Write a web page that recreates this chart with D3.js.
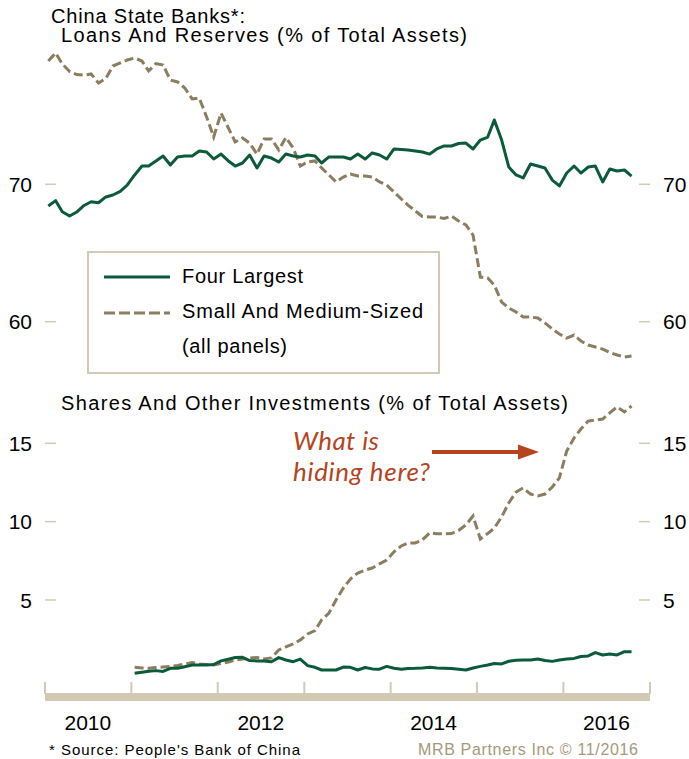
<!DOCTYPE html>
<html>
<head>
    <meta charset="utf-8">
    <title>China State Banks</title>
    <script src="https://d3js.org/d3.v7.min.js"></script>
    <style>
        html, body {
            margin: 0;
            background: #fff;
        }
        text {
            font-family: "Liberation Sans", Arial, sans-serif;
        }
    </style>
</head>
<body>
    <svg id="svg"></svg>
    <script>
        // monthly, Jan 2010 .. Oct 2016
        const loansFourLargest = [
            68.42, 68.81, 68.0, 67.69, 67.98, 68.46, 68.73, 68.66, 69.08, 69.22, 69.48, 69.95,
            70.68, 71.33, 71.33, 71.7, 72.06, 71.4, 71.99, 72.06, 72.06, 72.42, 72.35, 71.84,
            72.2, 71.7, 71.33, 71.55, 72.13, 71.19, 72.06, 71.91, 71.62, 72.2, 72.06, 71.99,
            72.13, 72.06, 71.55, 71.99, 71.99, 71.99, 71.84, 72.2, 71.84, 72.28, 72.13, 71.84,
            72.57, 72.53, 72.5, 72.42, 72.35, 72.2, 72.57, 72.79, 72.79, 72.97, 73.0, 72.57,
            73.22, 73.44, 74.68, 73.22, 71.26, 70.68, 70.46, 71.48, 71.33, 71.19, 70.31, 69.88,
            70.82, 71.33, 70.82, 71.26, 71.33, 70.17, 71.11, 70.97, 71.04, 70.6
        ];
        const loansSmallMedium = [
            78.97, 79.56, 78.76, 78.21, 77.99, 77.95, 78.03, 77.37, 77.7, 78.61, 78.83, 79.05,
            79.19, 78.97, 78.25, 78.79, 78.68, 77.59, 77.45, 77.01, 76.21, 76.28, 74.9, 73.44,
            75.19, 74.1, 73.08, 73.37, 73.0, 72.2, 73.3, 73.3, 72.5, 73.41, 72.64, 71.33,
            71.62, 71.7, 71.19, 70.68, 70.17, 70.53, 70.75, 70.6, 70.6, 70.53, 70.17, 69.95,
            69.44, 68.93, 68.49, 68.06, 67.66, 67.62, 67.62, 67.51, 67.69, 67.33, 67.04, 66.31,
            63.25, 63.18, 62.67, 61.43, 61.0, 60.71, 60.34, 60.34, 60.27, 59.91, 59.47, 59.1,
            58.81, 59.03, 58.59, 58.3, 58.16, 58.01, 57.76, 57.58, 57.43, 57.5
        ];
        // monthly, Jan 2011 .. Oct 2016
        const sharesFourLargest = [
            0.32, 0.39, 0.45, 0.49, 0.44, 0.64, 0.64, 0.74, 0.85, 0.85, 0.85, 0.88,
            1.11, 1.22, 1.33, 1.34, 1.13, 1.11, 1.11, 1.06, 1.32, 1.17, 1.06, 1.23,
            0.81, 0.7, 0.53, 0.53, 0.53, 0.72, 0.7, 0.53, 0.69, 0.6, 0.58, 0.76,
            0.64, 0.58, 0.63, 0.64, 0.66, 0.7, 0.66, 0.64, 0.63, 0.58, 0.53, 0.66,
            0.76, 0.85, 0.95, 0.92, 1.09, 1.15, 1.17, 1.17, 1.23, 1.14, 1.08, 1.17,
            1.23, 1.27, 1.39, 1.43, 1.64, 1.49, 1.55, 1.49, 1.7, 1.7
        ];
        const sharesSmallMedium = [
            0.71, 0.66, 0.64, 0.69, 0.72, 0.76, 0.82, 0.92, 1.01, 0.92, 0.88, 0.85,
            0.95, 1.04, 1.17, 1.23, 1.3, 1.33, 1.23, 1.3, 1.81, 2.0, 2.19, 2.45,
            2.83, 3.04, 3.72, 4.17, 5.0, 5.77, 6.34, 6.72, 6.91, 7.04, 7.3, 7.55,
            8.07, 8.45, 8.64, 8.64, 8.83, 9.28, 9.22, 9.22, 9.24, 9.43, 9.79, 10.36,
            8.89, 9.24, 9.59, 10.3, 11.19, 11.89, 12.15, 11.76, 11.64, 11.76, 12.21, 12.79,
            14.5, 15.34, 15.91, 16.42, 16.49, 16.55, 16.94, 17.32, 17.0, 17.38
        ];

        const yearTicks = [2010, 2011, 2012, 2013, 2014, 2015, 2016, 2017];
        const yearLabels = [2010, 2012, 2014, 2016];
        const loanTicks = [60, 70];
        const shareTicks = [5, 10, 15];

        const width = 689;
        const height = 759;
        const green = "#0b5a3a";
        const khaki = "#8b7e60";
        const beige = "#d2cab4";

        const svg = d3.select("#svg")
        .attr("width", width)
        .attr("height", height);

        // month mid-points
        const loanMonths = loansFourLargest.map((d, i) => new Date(2010, i, 15));
        const shareMonths = sharesFourLargest.map((d, i) => new Date(2011, i, 15));

        const x = d3.scaleTime()
        .domain([new Date(2010, 0, 1), new Date(2017, 0, 1)])
        .range([45, 650]);

        const yTop = d3.scaleLinear().domain([60, 70]).range([321.7, 184.3]);
        const yBot = d3.scaleLinear().domain([0, 15]).range([678.3, 443.3]);

        // text helper, stretched to the width seen in the original
        function label(xx, yy, size, str, len) {
            const t = svg.append("text").attr("x", xx).attr("y", yy).attr("font-size", size).text(str);
            if (len) t.attr("textLength", len).attr("lengthAdjust", "spacing");
            return t;
        }

        // titles
        label(51, 23, 20, "China State Banks*:", 194);
        label(61, 42, 20, "Loans And Reserves (% of Total Assets)", 406);
        label(61, 410, 20, "Shares And Other Investments (% of Total Assets)", 507);

        // y ticks both sides
        function yAxis(scale, ticks) {
            const g = svg.append("g");
            ticks.forEach(t => {
                const yy = scale(t);
                g.append("line").attr("x1", 45).attr("x2", 56).attr("y1", yy).attr("y2", yy)
                .attr("stroke", beige).attr("stroke-width", 1.5);
                g.append("line").attr("x1", 639).attr("x2", 650).attr("y1", yy).attr("y2", yy)
                .attr("stroke", beige).attr("stroke-width", 1.5);
                g.append("text").attr("x", 32).attr("y", yy).attr("dy", "0.36em")
                .attr("text-anchor", "end").attr("font-size", 21).text(t);
                g.append("text").attr("x", 663).attr("y", yy).attr("dy", "0.36em")
                .attr("font-size", 21).text(t);
            });
        }
        yAxis(yTop, loanTicks);
        yAxis(yBot, shareTicks);

        // x axis: thick bar with year ticks
        svg.append("rect")
        .attr("x", x(new Date(2010, 0, 1)))
        .attr("y", 693)
        .attr("width", x(new Date(2017, 0, 1)) - x(new Date(2010, 0, 1)))
        .attr("height", 8)
        .attr("fill", beige);

        svg.append("g").selectAll("line")
        .data(yearTicks)
        .enter()
        .append("line")
        .attr("x1", d => x(new Date(d, 0, 1)))
        .attr("x2", d => x(new Date(d, 0, 1)))
        .attr("y1", 682)
        .attr("y2", 694)
        .attr("stroke", beige)
        .attr("stroke-width", 2);

        svg.append("g").selectAll("text")
        .data(yearLabels)
        .enter()
        .append("text")
        .attr("x", d => x(new Date(d, 6, 1)))
        .attr("y", 730)
        .attr("text-anchor", "middle")
        .attr("font-size", 21)
        .text(d => d);

        // lines
        const lineTop = d3.line().x((d, i) => x(loanMonths[i])).y(d => yTop(d));
        const lineBot = d3.line().x((d, i) => x(shareMonths[i])).y(d => yBot(d));

        svg.append("path").attr("d", lineTop(loansSmallMedium))
        .attr("fill", "none").attr("stroke", khaki).attr("stroke-width", 3)
        .attr("stroke-dasharray", "9,4");
        svg.append("path").attr("d", lineTop(loansFourLargest))
        .attr("fill", "none").attr("stroke", green).attr("stroke-width", 3)
        .attr("stroke-linejoin", "round");

        svg.append("path").attr("d", lineBot(sharesSmallMedium))
        .attr("fill", "none").attr("stroke", khaki).attr("stroke-width", 3)
        .attr("stroke-dasharray", "9,4");
        svg.append("path").attr("d", lineBot(sharesFourLargest))
        .attr("fill", "none").attr("stroke", green).attr("stroke-width", 3)
        .attr("stroke-linejoin", "round");

        // legend
        const legend = svg.append("g");
        legend.append("rect").attr("x", 88).attr("y", 252).attr("width", 351).attr("height", 121)
        .attr("fill", "#fff").attr("stroke", beige).attr("stroke-width", 2);
        legend.append("line").attr("x1", 104).attr("x2", 170).attr("y1", 277).attr("y2", 277)
        .attr("stroke", green).attr("stroke-width", 3);
        legend.append("line").attr("x1", 104).attr("x2", 170).attr("y1", 313).attr("y2", 313)
        .attr("stroke", khaki).attr("stroke-width", 3).attr("stroke-dasharray", "11,4");
        label(182, 283, 20, "Four Largest", 121);
        label(182, 318, 20, "Small And Medium-Sized", 241);
        label(182, 353, 20, "(all panels)", 105);

        // annotation
        const rust = "#b5441f";
        label(293, 450, 26, "What is", 86)
        .attr("font-style", "italic").attr("fill", rust)
        .style("font-family", "Lato, sans-serif");
        label(293, 481, 26, "hiding here?", 137)
        .attr("font-style", "italic").attr("fill", rust)
        .style("font-family", "Lato, sans-serif");
        svg.append("line").attr("x1", 432).attr("x2", 520).attr("y1", 452).attr("y2", 452)
        .attr("stroke", rust).attr("stroke-width", 4);
        svg.append("path").attr("d", "M518,444.5 L539,452 L518,459.5 Z").attr("fill", rust);

        // footer
        label(49, 755, 15, "* Source: People's Bank of China", 251);
        label(418, 755, 16, "MRB Partners Inc \u00a9 11/2016", 220).attr("fill", "#a6997b");
    </script>
</body>
</html>
